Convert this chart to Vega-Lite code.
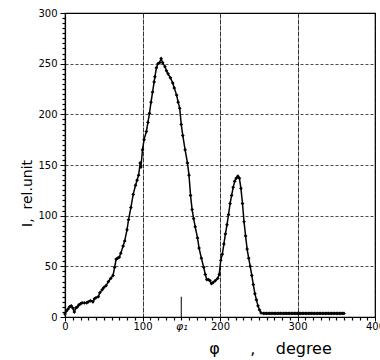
{
  "$schema": "https://vega.github.io/schema/vega-lite/v6.json",
  "autosize": "none",
  "width": 310,
  "height": 304,
  "padding": {"left": 65, "top": 13, "right": 5, "bottom": 43},
  "background": "white",
  "config": {
    "view": {"stroke": "black", "strokeWidth": 1.2},
    "axis": {"labelFont": "DejaVu Sans", "titleFont": "DejaVu Sans", "labelColor": "black", "titleColor": "black", "domainColor": "black", "tickColor": "black", "labelFontSize": 10, "labelFlush": false, "labelOverlap": false}
  },
  "datasets": {
    "curve": [
      {"phi": 0, "I": 3}, {"phi": 2, "I": 6}, {"phi": 4, "I": 8}, {"phi": 6, "I": 10}, {"phi": 8, "I": 11},
      {"phi": 10, "I": 9}, {"phi": 12, "I": 5}, {"phi": 14, "I": 9}, {"phi": 16, "I": 10}, {"phi": 18, "I": 12},
      {"phi": 20, "I": 13}, {"phi": 22, "I": 14}, {"phi": 25, "I": 14}, {"phi": 28, "I": 14}, {"phi": 30, "I": 15},
      {"phi": 33, "I": 16}, {"phi": 36, "I": 15}, {"phi": 38, "I": 18}, {"phi": 40, "I": 19}, {"phi": 43, "I": 20},
      {"phi": 45, "I": 24}, {"phi": 48, "I": 27}, {"phi": 50, "I": 29}, {"phi": 53, "I": 31}, {"phi": 56, "I": 35},
      {"phi": 59, "I": 38}, {"phi": 62, "I": 41}, {"phi": 64, "I": 49}, {"phi": 66, "I": 57}, {"phi": 68, "I": 58},
      {"phi": 70, "I": 59}, {"phi": 72, "I": 63}, {"phi": 75, "I": 70}, {"phi": 77, "I": 75}, {"phi": 80, "I": 86},
      {"phi": 82, "I": 96}, {"phi": 85, "I": 108}, {"phi": 88, "I": 121}, {"phi": 91, "I": 130}, {"phi": 93, "I": 135},
      {"phi": 95, "I": 140}, {"phi": 97, "I": 152}, {"phi": 98, "I": 148}, {"phi": 100, "I": 165}, {"phi": 102, "I": 175},
      {"phi": 105, "I": 183}, {"phi": 107, "I": 192}, {"phi": 109, "I": 201}, {"phi": 111, "I": 212}, {"phi": 113, "I": 222},
      {"phi": 115, "I": 232}, {"phi": 116, "I": 237}, {"phi": 118, "I": 246}, {"phi": 120, "I": 250}, {"phi": 122, "I": 251},
      {"phi": 124, "I": 255}, {"phi": 126, "I": 251}, {"phi": 129, "I": 247}, {"phi": 131, "I": 243}, {"phi": 133, "I": 240},
      {"phi": 136, "I": 236}, {"phi": 139, "I": 231}, {"phi": 141, "I": 226}, {"phi": 144, "I": 219}, {"phi": 146, "I": 212},
      {"phi": 148, "I": 206}, {"phi": 150, "I": 190}, {"phi": 152, "I": 179}, {"phi": 155, "I": 165}, {"phi": 158, "I": 152},
      {"phi": 160, "I": 140}, {"phi": 162, "I": 120}, {"phi": 164, "I": 106}, {"phi": 166, "I": 97}, {"phi": 168, "I": 89},
      {"phi": 171, "I": 78}, {"phi": 173, "I": 68}, {"phi": 176, "I": 58}, {"phi": 179, "I": 49}, {"phi": 181, "I": 42},
      {"phi": 183, "I": 37}, {"phi": 185, "I": 37}, {"phi": 187, "I": 36}, {"phi": 189, "I": 33}, {"phi": 191, "I": 34},
      {"phi": 194, "I": 36}, {"phi": 197, "I": 38}, {"phi": 199, "I": 42}, {"phi": 201, "I": 56}, {"phi": 203, "I": 62},
      {"phi": 205, "I": 72}, {"phi": 207, "I": 82}, {"phi": 209, "I": 91}, {"phi": 211, "I": 101}, {"phi": 213, "I": 112},
      {"phi": 215, "I": 120}, {"phi": 217, "I": 128}, {"phi": 219, "I": 134}, {"phi": 221, "I": 137}, {"phi": 223, "I": 139},
      {"phi": 225, "I": 137}, {"phi": 227, "I": 127}, {"phi": 229, "I": 112}, {"phi": 231, "I": 94}, {"phi": 233, "I": 80},
      {"phi": 235, "I": 67}, {"phi": 237, "I": 58}, {"phi": 239, "I": 50}, {"phi": 241, "I": 41}, {"phi": 243, "I": 32},
      {"phi": 245, "I": 23}, {"phi": 247, "I": 17}, {"phi": 249, "I": 11}, {"phi": 251, "I": 7}, {"phi": 253, "I": 4},
      {"phi": 256, "I": 3.5}, {"phi": 258, "I": 3.5}, {"phi": 260, "I": 3.5}, {"phi": 262, "I": 3.5}, {"phi": 264, "I": 3.5},
      {"phi": 266, "I": 3.5}, {"phi": 268, "I": 3.5}, {"phi": 270, "I": 3.5}, {"phi": 272, "I": 3.5}, {"phi": 274, "I": 3.5},
      {"phi": 276, "I": 3.5}, {"phi": 278, "I": 3.5}, {"phi": 280, "I": 3.5}, {"phi": 282, "I": 3.5}, {"phi": 284, "I": 3.5},
      {"phi": 286, "I": 3.5}, {"phi": 288, "I": 3.5}, {"phi": 290, "I": 3.5}, {"phi": 292, "I": 3.5}, {"phi": 294, "I": 3.5},
      {"phi": 296, "I": 3.5}, {"phi": 298, "I": 3.5}, {"phi": 300, "I": 3.5}, {"phi": 302, "I": 3.5}, {"phi": 304, "I": 3.5},
      {"phi": 306, "I": 3.5}, {"phi": 308, "I": 3.5}, {"phi": 310, "I": 3.5}, {"phi": 312, "I": 3.5}, {"phi": 314, "I": 3.5},
      {"phi": 316, "I": 3.5}, {"phi": 318, "I": 3.5}, {"phi": 320, "I": 3.5}, {"phi": 322, "I": 3.5}, {"phi": 324, "I": 3.5},
      {"phi": 326, "I": 3.5}, {"phi": 328, "I": 3.5}, {"phi": 330, "I": 3.5}, {"phi": 332, "I": 3.5}, {"phi": 334, "I": 3.5},
      {"phi": 336, "I": 3.5}, {"phi": 338, "I": 3.5}, {"phi": 340, "I": 3.5}, {"phi": 342, "I": 3.5}, {"phi": 344, "I": 3.5},
      {"phi": 346, "I": 3.5}, {"phi": 348, "I": 3.5}, {"phi": 350, "I": 3.5}, {"phi": 352, "I": 3.5}, {"phi": 354, "I": 3.5},
      {"phi": 356, "I": 3.5}, {"phi": 358, "I": 3.5}, {"phi": 360, "I": 3.5}
    ],
    "marker": [{"phi": 150, "I": 0, "I2": 20}]
  },
  "layer": [
    {
      "data": {"name": "curve"},
      "mark": {"type": "line", "color": "black", "strokeWidth": 1.5, "point": {"filled": true, "color": "black", "size": 14, "shape": "diamond"}},
      "encoding": {
        "x": {"field": "phi", "type": "quantitative", "scale": {"domain": [0, 400], "nice": false},
          "axis": {"values": [0, 100, 200, 300, 400], "grid": true, "gridColor": "black", "gridDash": [5, 1], "gridOpacity": 0.8, "gridWidth": 1, "tickSize": 4, "labelPadding": 0, "domainWidth": 1.2,
            "title": "φ\u00a0\u00a0\u00a0\u00a0\u00a0\u00a0,\u00a0\u00a0\u00a0\u00a0degree", "titleFontSize": 16, "titleFontWeight": "normal", "titleX": 205, "titleY": 36, "titleAlign": "center", "titleBaseline": "alphabetic"}},
        "y": {"field": "I", "type": "quantitative", "scale": {"domain": [0, 300], "nice": false},
          "axis": {"values": [0, 50, 100, 150, 200, 250, 300], "grid": true, "gridColor": "black", "gridDash": [3, 2], "gridOpacity": 0.7, "gridWidth": 1, "tickSize": 5, "labelPadding": 3, "domainWidth": 1.2,
            "title": "I,\u00a0\u00a0rel.unit", "titleFontSize": 14, "titleFontWeight": "normal", "titleX": -38, "titleY": 180, "titleAngle": -90, "titleAlign": "center", "titleBaseline": "middle"}}
      }
    },
    {
      "data": {"name": "marker"},
      "mark": {"type": "rule", "color": "black", "strokeWidth": 1},
      "encoding": {
        "x": {"field": "phi", "type": "quantitative", "scale": {"domain": [0, 400], "nice": false},
          "axis": {"orient": "bottom", "values": [10,20,30,40,50,60,70,80,90,110,120,130,140,150,160,170,180,190,210,220,230,240,250,260,270,280,290,310,320,330,340,350,360,370,380,390],
            "grid": false, "domain": false, "tickSize": 3, "tickWidth": 1.2, "labelPadding": 0, "title": null, "labelFontSize": 11, "labelFontStyle": "italic",
            "labelExpr": "datum.value == 150 ? 'φ₁' : ''"}},
        "y": {"field": "I", "type": "quantitative", "scale": {"domain": [0, 300], "nice": false},
          "axis": {"orient": "left", "values": [5,10,15,20,25,30,35,40,45,55,60,65,70,75,80,85,90,95,105,110,115,120,125,130,135,140,145,155,160,165,170,175,180,185,190,195,205,210,215,220,225,230,235,240,245,255,260,265,270,275,280,285,290,295],
            "grid": false, "domain": false, "tickSize": 3, "tickWidth": 1.2, "labels": false, "title": null}},
        "y2": {"field": "I2"}
      }
    }
  ],
  "resolve": {"axis": {"x": "independent", "y": "independent"}}
}
